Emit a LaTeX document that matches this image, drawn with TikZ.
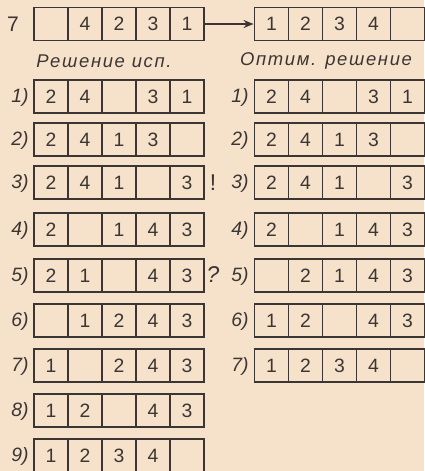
\documentclass[tikz,border=0pt]{standalone}
\usepackage{fontspec}
\setmainfont{Liberation Sans}
\usetikzlibrary{arrows.meta}

\definecolor{paper}{HTML}{F6E1CA}
\definecolor{ink}{HTML}{3B3633}

\tikzset{
  cell/.style={draw=ink, line width=1.1pt, minimum width=0.68cm, minimum height=0.66cm,
    inner sep=0pt, text=ink, font=\fontsize{11}{13}\selectfont},
  lbl/.style={text=ink, font=\itshape\fontsize{11}{13}\selectfont},
  head/.style={text=ink, font=\itshape\fontsize{10.5}{13}\selectfont\addfontfeatures{LetterSpace=9}},
}

% one row of five cells: name, left edge, top edge, entries (a list macro)
\newcommand\cellrow[4]{%
  \foreach \v [count=\i] in #4
    \node[cell] (#1-\i) at ({#2+34*(\i-0.5)},{#3+16.5}) {\v};
}

\begin{document}
\begin{tikzpicture}[x=0.02cm,y=-0.02cm]
\fill[paper] (0,0) rectangle (424,471);
\useasboundingbox (0,0) rectangle (424,471);

% task and start / goal
\node[text=ink, font=\fontsize{12}{14}\selectfont] (task) at (13,24) {7};
\cellrow{start}{34}{7.5}{{{},4,2,3,1}}
\cellrow{goal}{254.5}{7.5}{{1,2,3,4,{}}}
\draw[ink, line width=1.1pt, -{Stealth[length=0.2cm,width=0.16cm]}] (start-5.east) -- (goal-1.west);

\node[head] (hl) at (104,61) {Решение исп.};
\node[head] (hr) at (326,61) {Оптим. решение};

% left column: trial solution
\foreach \y/\n/\e in {80/1/{2,4,{},3,1}, 123/2/{2,4,1,3,{}}, 166/3/{2,4,1,{},3},
    213/4/{2,{},1,4,3}, 259/5/{2,1,{},4,3}, 304/6/{{},1,2,4,3},
    349/7/{1,{},2,4,3}, 394/8/{1,2,{},4,3}, 439/9/{1,2,3,4,{}}} {
  \node[lbl] (nl\n) at (20,\y+17) {\n)};
  \cellrow{L\n}{34}{\y}{\e}
}

% right column: optimal solution
\foreach \y/\n/\e in {80/1/{2,4,{},3,1}, 123/2/{2,4,1,3,{}}, 166/3/{2,4,1,{},3},
    213/4/{2,{},1,4,3}, 259/5/{{},2,1,4,3}, 304/6/{1,2,{},4,3},
    349/7/{1,2,3,4,{}}} {
  \node[lbl] (nr\n) at (240,\y+17) {\n)};
  \cellrow{R\n}{254.5}{\y}{\e}
}

\node[text=ink, font=\fontsize{13}{15}\selectfont] (bang) at (213,183) {!};
\node[lbl, font=\itshape\fontsize{13}{15}\selectfont] (query) at (213,275) {?};
\end{tikzpicture}
\end{document}
